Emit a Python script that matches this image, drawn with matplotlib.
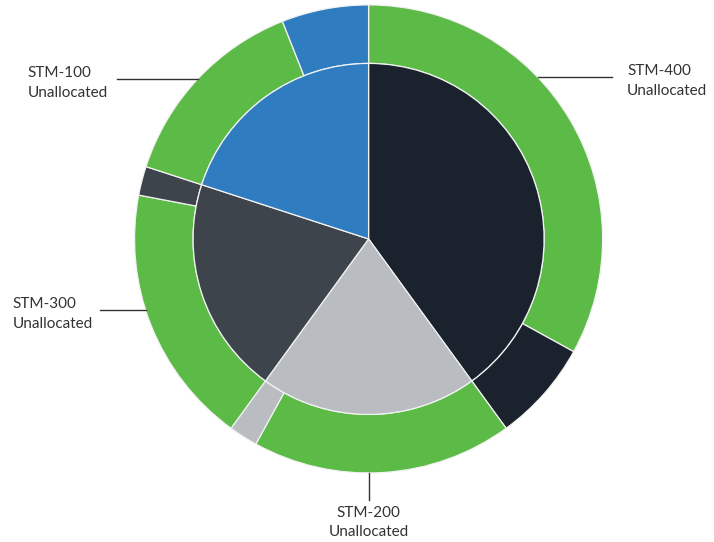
#!/usr/bin/env python3
# nested pie: STM capacity, allocated vs unallocated
import numpy as np
import matplotlib.pyplot as plt

plt.rcParams['font.family'] = ['Lato', 'DejaVu Sans']

rates = ['STM-400', 'STM-200', 'STM-300', 'STM-100']
totals = [40, 20, 20, 20]
unallocated = [33, 18, 18, 14]
allocated = [7, 2, 2, 6]

rate_colors = ['#1a222d', '#b9bdc1', '#3e444c', '#2f7cc1']
green = '#5cba47'
edge = '#f2f2f2'

# outer ring goes unallocated then allocated inside each rate
outer_vals = []
outer_cols = []
for u, a, c in zip(unallocated, allocated, rate_colors):
    outer_vals += [u, a]
    outer_cols += [green, c]

fig = plt.figure(figsize=(7.14, 5.42), dpi=100)
ax = fig.add_axes([0, 0, 1, 1])

r_in = 0.75
ax.pie(outer_vals, radius=1.0, colors=outer_cols, startangle=90,
       counterclock=False, wedgeprops=dict(width=1.0 - r_in, edgecolor=edge, linewidth=0.9))
ax.pie(totals, radius=r_in, colors=rate_colors, startangle=90,
       counterclock=False, wedgeprops=dict(edgecolor=edge, linewidth=0.9))

ax.set_aspect('equal')
ax.set_xlim(-1.575, 1.476)
ax.set_ylim(-1.295, 1.021)
ax.axis('off')

# label placement (text anchor, line end) for each unallocated slice
lab_pos = {
    'STM-400': (1.105, 0.692, 1.041, 'left'),
    'STM-100': (-1.113, 0.684, -1.075, 'right'),
    'STM-300': (-1.177, -0.303, -1.147, 'right'),
}
tcol = '#333333'
for name in rates:
    txt = name + '\nUnallocated'
    if name == 'STM-200':
        ax.plot([0, 0], [-1.0, -1.115], color=tcol, lw=1)
        ax.text(0, -1.14, txt, ha='center', va='top', fontsize=11,
                color=tcol, linespacing=1.5)
        continue
    tx, ty, lx, ha = lab_pos[name]
    sx = np.sign(tx) * np.sqrt(1 - ty ** 2)
    ax.plot([sx, lx], [ty, ty], color=tcol, lw=1)
    ax.text(tx, ty - 0.017, txt, ha=ha, va='center', multialignment='left',
            fontsize=11, color=tcol, linespacing=1.5)

fig.savefig('out.png', dpi=100)
